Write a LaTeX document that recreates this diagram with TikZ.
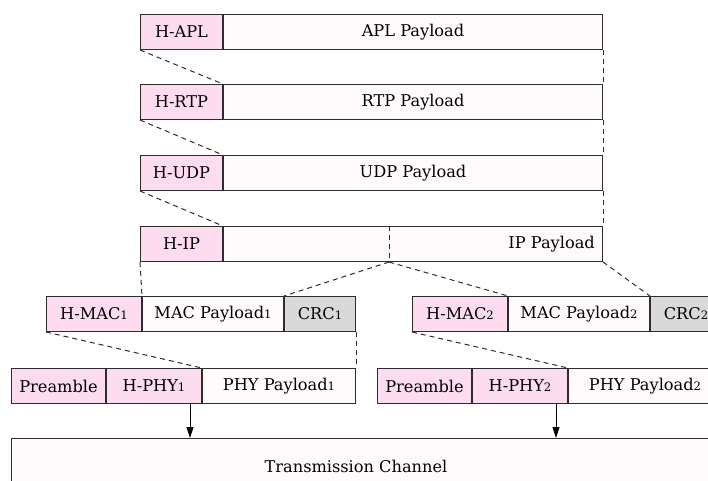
\documentclass[tikz,border=0pt]{standalone}
\usepackage{fontspec}
\setmainfont{DejaVu Serif}
\usetikzlibrary{arrows.meta}
\definecolor{hdrpink}{RGB}{253,220,240}
\definecolor{paywhite}{RGB}{255,251,253}
\definecolor{crcgray}{RGB}{217,217,217}
\definecolor{edgegray}{RGB}{45,45,45}
% small digits, standing in for old-style figures
\newcommand{\od}[1]{{\fontsize{11.6}{12}\selectfont #1}}

\begin{document}
\begin{tikzpicture}[x=1pt, y=-1pt,
  cell/.style={draw=edgegray, line width=1pt, rectangle, anchor=north west, inner sep=0pt,
    minimum height=35pt, font=\fontsize{16.2}{18}\selectfont},
  hdr/.style={cell, fill=hdrpink},
  pay/.style={cell, fill=paywhite},
  crc/.style={cell, fill=crcgray},
  link/.style={draw=edgegray, line width=1pt, dash pattern=on 5pt off 4pt},
  down/.style={draw=black, line width=0.9pt, -{Triangle[length=11pt,width=7pt]}}]
  \useasboundingbox (0,0) rectangle (708,480);
  \clip (0,0) rectangle (708,480);

  % protocol stack
  \node[hdr, minimum width=82] (happl) at (140,14) {H-APL};
  \node[pay, minimum width=379] (apl) at (happl.north east) {APL Payload};
  \node[hdr, minimum width=82] (hrtp) at (140,84) {H-RTP};
  \node[pay, minimum width=379] (rtp) at (hrtp.north east) {RTP Payload};
  \node[hdr, minimum width=82] (hudp) at (140,155) {H-UDP};
  \node[pay, minimum width=379] (udp) at (hudp.north east) {UDP Payload};
  \node[hdr, minimum width=82] (hip) at (140,226) {H-IP};
  \node[pay, minimum width=379] (ip) at (hip.north east) {};
  \node[anchor=east, inner sep=0pt, font=\fontsize{16.2}{18}\selectfont] (iptext) at ([xshift=-8pt]ip.east) {IP Payload};
  \coordinate (ipmidtop) at ([xshift=166pt]ip.north west);
  \coordinate (ipmidbot) at ([xshift=166pt]ip.south west);

  % MAC frames
  \node[hdr, minimum width=95] (hmac1) at (46,296) {H-MAC\od{1}};
  \node[pay, minimum width=141] (macpay1) at (hmac1.north east) {MAC Payload\od{1}};
  \node[crc, minimum width=71] (crc1) at (macpay1.north east) {CRC\od{1}};
  \node[hdr, minimum width=95] (hmac2) at (412,296) {H-MAC\od{2}};
  \node[pay, minimum width=141] (macpay2) at (hmac2.north east) {MAC Payload\od{2}};
  \node[crc, minimum width=71] (crc2) at (macpay2.north east) {CRC\od{2}};

  % PHY frames
  \node[hdr, minimum width=94] (pre1) at (11,368) {Preamble};
  \node[hdr, minimum width=95] (hphy1) at (pre1.north east) {H-PHY\od{1}};
  \node[pay, minimum width=153] (phypay1) at (hphy1.north east) {PHY Payload\od{1}};
  \node[hdr, minimum width=94] (pre2) at (377,368) {Preamble};
  \node[hdr, minimum width=95] (hphy2) at (pre2.north east) {H-PHY\od{2}};
  \node[pay, minimum width=153] (phypay2) at (hphy2.north east) {PHY Payload\od{2}};

  % channel
  \node[pay, minimum width=708, minimum height=56] (chan) at (11,438) {};
  \node[font=\fontsize{16.2}{18}\selectfont] (chantext) at (356,466) {Transmission Channel};

  % encapsulation
  \draw[link] (happl.south west) -- (hrtp.north east);
  \draw[link] (apl.south east) -- (rtp.north east);
  \draw[link] (hrtp.south west) -- (hudp.north east);
  \draw[link] (rtp.south east) -- (udp.north east);
  \draw[link] (hudp.south west) -- (hip.north east);
  \draw[link] (udp.south east) -- (ip.north east);
  \draw[link] (ipmidtop) -- (ipmidbot);
  \draw[link] (hip.south west) -- (hmac1.north east);
  \draw[link] (ipmidbot) -- (macpay1.north east);
  \draw[link] (ipmidbot) -- (hmac2.north east);
  \draw[link] (ip.south east) -- (crc2.north west);
  \draw[link] (hmac1.south west) -- (hphy1.north east);
  \draw[link] (crc1.south east) -- (phypay1.north east);
  \draw[link] (hmac2.south west) -- (hphy2.north east);
  \draw[link] (crc2.south east) -- (phypay2.north east);

  % to the channel
  \coordinate (tx1) at ([xshift=-12pt]hphy1.south east);
  \coordinate (tx2) at ([xshift=-12pt]hphy2.south east);
  \draw[down] (tx1) -- (tx1 |- chan.north);
  \draw[down] (tx2) -- (tx2 |- chan.north);
\end{tikzpicture}
\end{document}
